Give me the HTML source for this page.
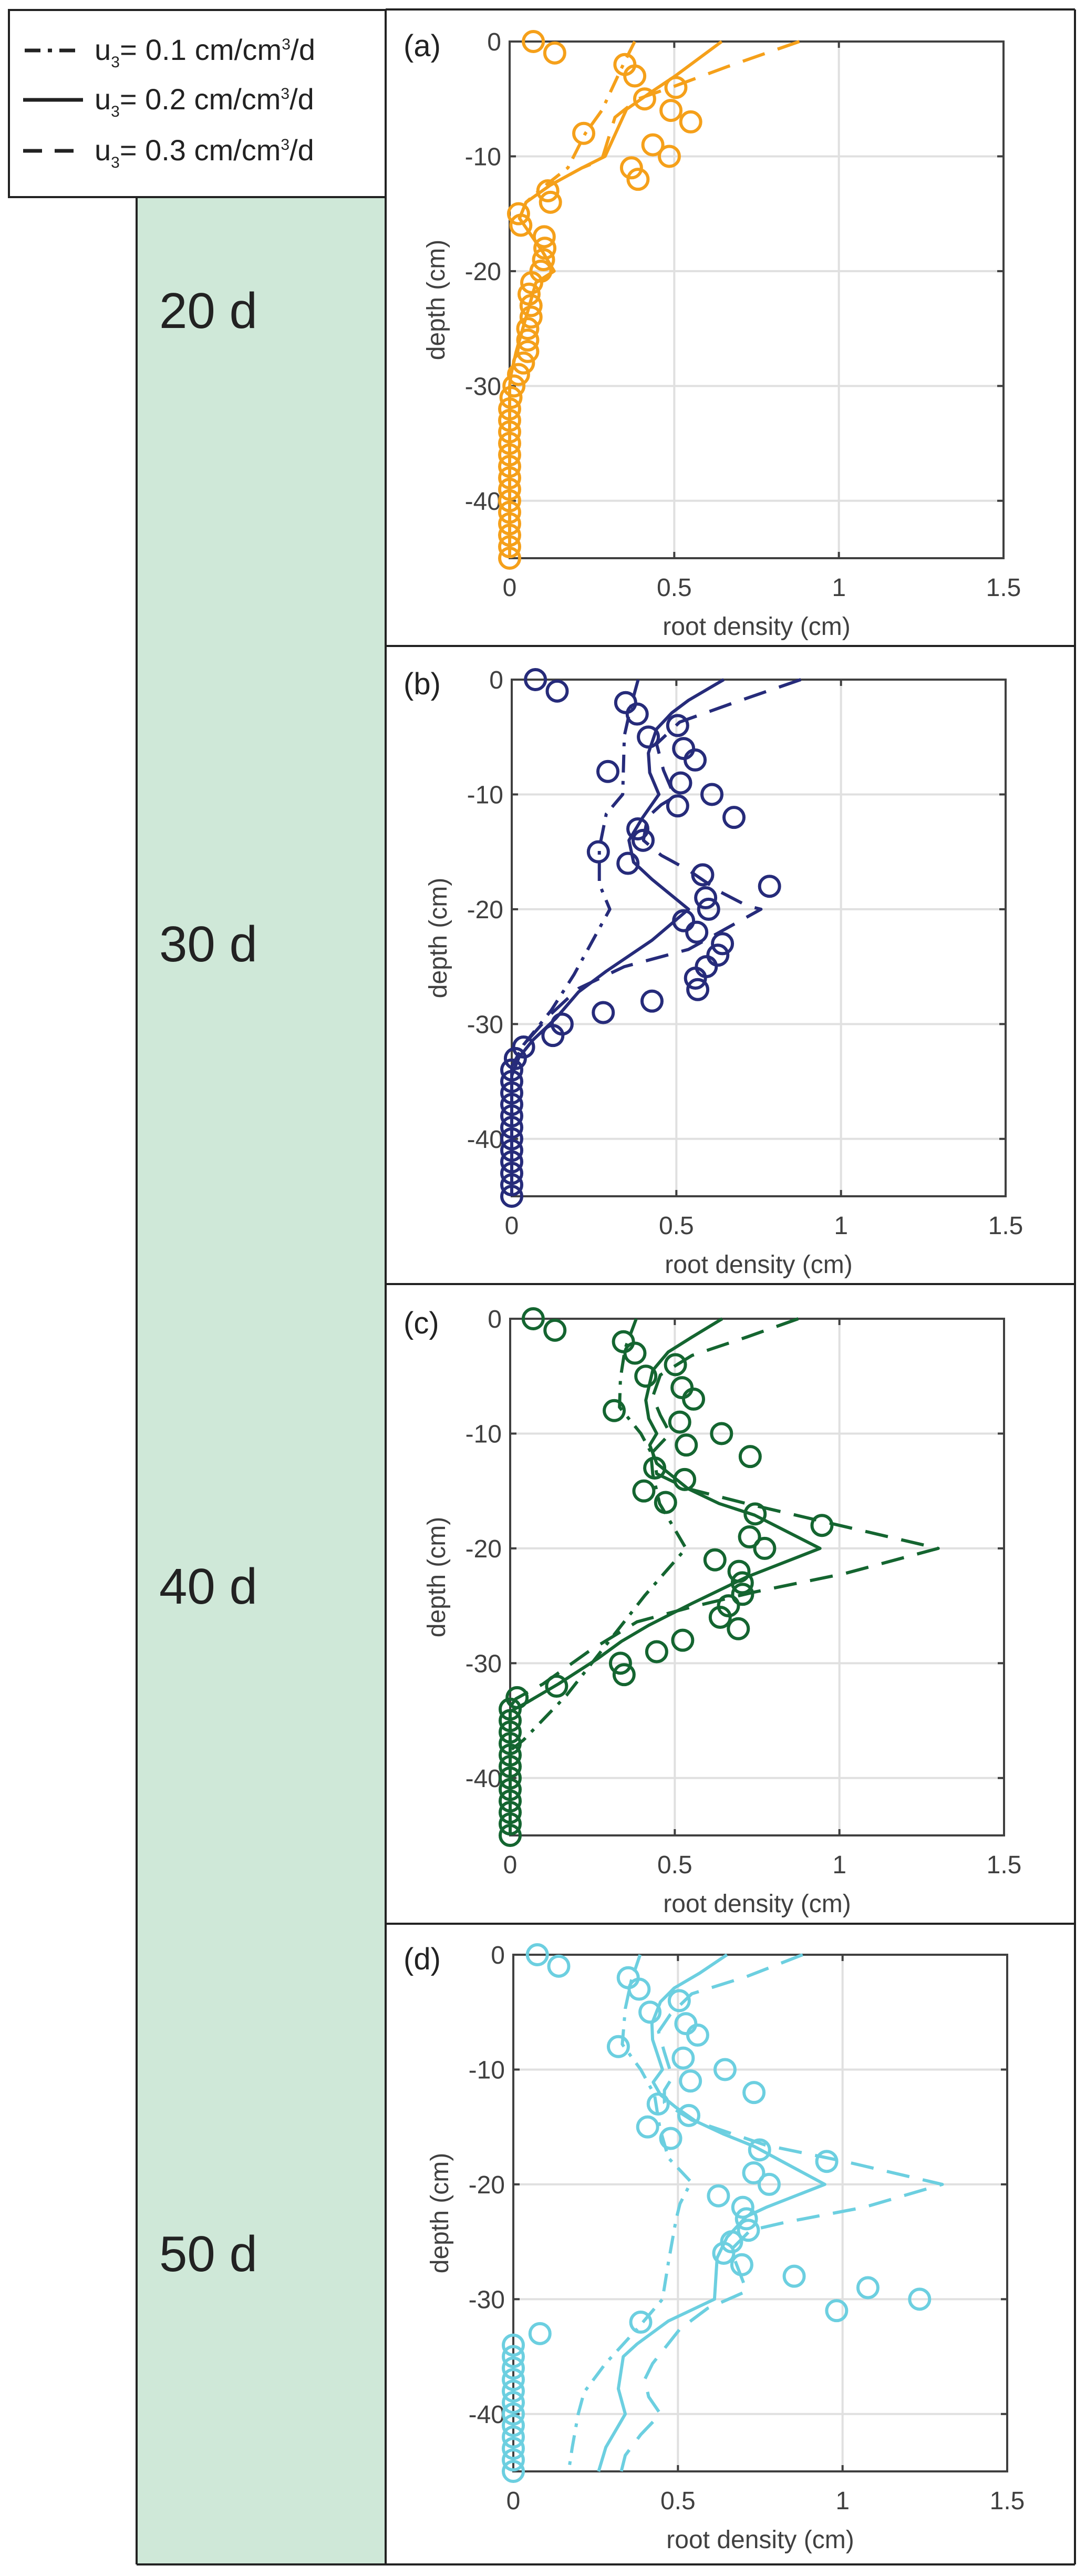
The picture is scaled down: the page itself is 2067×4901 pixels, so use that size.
<!DOCTYPE html>
<html><head><meta charset="utf-8"><style>
html,body{margin:0;padding:0;background:#fff;}
svg{display:block;font-family:"Liberation Sans",sans-serif;}
</style></head><body>
<svg id="fig" width="2067" height="4901" viewBox="0 0 2067 4901" xmlns="http://www.w3.org/2000/svg">
<rect x="260" y="375" width="474" height="4504" fill="#cfe8d8"/>
<g stroke="#222" stroke-width="4" fill="none">
<line x1="734" y1="18" x2="2046" y2="18"/>
<line x1="2046" y1="18" x2="2046" y2="4879"/>
<line x1="260" y1="4879" x2="2046" y2="4879"/>
<line x1="260" y1="375" x2="260" y2="4879"/>
<line x1="734" y1="18" x2="734" y2="4879"/>
<line x1="734" y1="1229" x2="2046" y2="1229"/>
<line x1="734" y1="2443" x2="2046" y2="2443"/>
<line x1="734" y1="3660" x2="2046" y2="3660"/>
</g>
<g>
<rect x="17" y="19" width="717" height="356" fill="#fff" stroke="#222" stroke-width="4"/>
<g>
<line x1="47" y1="96" x2="156" y2="96" stroke="#222" stroke-width="7" stroke-dasharray="30,14,8,14"/>
<text x="180" y="114" font-size="56" fill="#222" textLength="420">u<tspan font-size="30" dy="14">3</tspan><tspan dy="-14">= 0.1 cm/cm</tspan><tspan font-size="30" dy="-20">3</tspan><tspan dy="20">/d</tspan></text></g>
<g>
<line x1="44" y1="190" x2="158" y2="190" stroke="#222" stroke-width="7"/>
<text x="180" y="208" font-size="56" fill="#222">u<tspan font-size="30" dy="14">3</tspan><tspan dy="-14">= 0.2 cm/cm</tspan><tspan font-size="30" dy="-20">3</tspan><tspan dy="20">/d</tspan></text></g>
<g>
<line x1="44" y1="287" x2="158" y2="287" stroke="#222" stroke-width="7" stroke-dasharray="36,24"/>
<text x="180" y="305" font-size="56" fill="#222">u<tspan font-size="30" dy="14">3</tspan><tspan dy="-14">= 0.3 cm/cm</tspan><tspan font-size="30" dy="-20">3</tspan><tspan dy="20">/d</tspan></text></g>
</g>
<g font-size="96" fill="#222">
<text x="303" y="624">20 d</text>
<text x="303" y="1829">30 d</text>
<text x="303" y="3051">40 d</text>
<text x="303" y="4321">50 d</text>
</g>
<g id="panels"></g>
</svg>
<script>
var NS="http://www.w3.org/2000/svg";
var xTicks=[0,0.5,1,1.5];
var xTickLabels=["0","0.5","1","1.5"];
var yTicks=[0,-10,-20,-30,-40];
var yTickLabels=["0","-10","-20","-30","-40"];
var obsDepth=[];for(var i=0;i<=45;i++)obsDepth.push(-i);
var z14=[0,0,0,0,0,0,0,0,0,0,0,0,0,0];
var obsA=[.072,.137,.35,.38,.505,.41,.49,.55,.225,.435,.485,.37,.39,.116,.124,.027,.034,.105,.107,.103,.095,.067,.059,.065,.065,.055,.055,.055,.042,.027,.013,.004].concat(z14);
var obsB=[.072,.138,.346,.381,.504,.415,.522,.557,.292,.513,.608,.504,.675,.383,.399,.263,.353,.58,.783,.589,.598,.522,.562,.64,.626,.591,.558,.565,.426,.278,.153,.125,.036,.011,0,0,0,0,0,0,0,0,0,0,0,0];
var obsC=[.07,.136,.344,.379,.502,.412,.522,.557,.316,.515,.642,.535,.729,.439,.53,.406,.472,.744,.947,.727,.773,.622,.695,.705,.706,.663,.638,.693,.524,.445,.335,.346,.141,.021,0,0,0,0,0,0,0,0,0,0,0,0];
var obsD=[.073,.138,.349,.382,.504,.415,.524,.56,.319,.516,.643,.538,.731,.44,.533,.408,.478,.748,.952,.73,.777,.623,.697,.708,.714,.663,.639,.694,.853,1.077,1.234,.982,.387,.081,0,0,0,0,0,0,0,0,0,0,0,0];
// model lines: depth arrays + value arrays
var aSolidD=[0,-3,-4.4,-5.9,-10,-11,-12.5,-14,-15.4,-18.3,-20,-21,-24,-27,-29,-30,-45];
var aSolidV=[.644,.503,.43,.355,.29,.22,.124,.05,.03,.1,.135,.08,.05,.02,.004,0,0];
var aDotD=[0,-2,-6,-8,-11,-12.5,-14,-15.4,-18.3,-20,-21,-24,-27,-29,-30,-45];
var aDotV=[.38,.345,.28,.23,.177,.11,.05,.03,.1,.135,.08,.05,.02,.004,0,0];
var aDashD=[0,-2.2,-3.9,-5,-6.6,-10.3,-11,-12.5,-14,-15.4,-18.3,-20,-21,-24,-27,-29,-30,-45];
var aDashV=[.88,.66,.5,.39,.32,.28,.22,.124,.05,.03,.1,.135,.08,.05,.02,.004,0,0];
var bSolidD=[0,-1.8,-2.9,-4.3,-6.4,-8.1,-10,-12,-14,-15.9,-17.4,-20,-22.7,-25.4,-27.2,-29.5,-31.4,-32.9,-34.5,-45];
var bSolidV=[.644,.537,.486,.44,.415,.419,.447,.398,.356,.37,.426,.537,.426,.287,.203,.134,.064,.022,0,0];
var bDotD=[0,-2.2,-4.9,-10,-11.7,-14.7,-17.8,-20,-25.7,-28.8,-31.8,-33.7,-45];
var bDotV=[.384,.363,.342,.337,.287,.266,.266,.298,.189,.12,.036,0,0];
var bDashD=[0,-2,-3.7,-5.6,-7.9,-10.2,-10.9,-12,-14,-15.3,-16.6,-18.5,-19.7,-20,-23.5,-25,-26.9,-29.1,-31.8,-33.7,-45];
var bDashV=[.878,.676,.51,.44,.461,.495,.454,.412,.4,.454,.537,.634,.715,.757,.537,.342,.203,.12,.036,0,0];
var cSolidD=[0,-1.6,-2.9,-4.5,-7.1,-8.7,-10,-11,-12.6,-14.8,-16.1,-17.1,-20,-22.5,-24.8,-26.7,-28.1,-29.6,-31.8,-33.4,-34.2,-45];
var cSolidV=[.644,.552,.48,.433,.412,.421,.445,.424,.445,.54,.635,.742,.941,.718,.552,.421,.338,.266,.147,.052,0,0];
var cDotD=[0,-2.6,-5.2,-7.7,-10,-11.6,-13.5,-16.1,-20,-24.1,-28.9,-32.8,-36.7,-37.6,-45];
var cDotV=[.383,.349,.335,.332,.397,.427,.433,.454,.534,.409,.278,.171,.04,0,0];
var cDashD=[0,-1.6,-3.2,-4.9,-6.8,-8.4,-10,-11.6,-13.5,-14.8,-16.1,-17.7,-20,-22.2,-23.8,-25.1,-26.4,-28.9,-31.8,-33.1,-33.8,-45];
var cDashV=[.875,.718,.552,.456,.433,.456,.486,.433,.445,.54,.718,.956,1.3,1.015,.742,.552,.385,.242,.1,.017,0,0];
var dSolidD=[0,-1.6,-2.9,-4.1,-6,-7.4,-10,-11.1,-12.2,-13.3,-14.5,-15.6,-16.7,-20,-22,-22.8,-24.6,-26.4,-30,-31.9,-33.9,-35,-37.8,-40,-42.9,-45];
var dSolidV=[.649,.566,.489,.447,.421,.423,.453,.425,.447,.494,.554,.637,.732,.946,.768,.708,.649,.619,.611,.471,.376,.334,.319,.34,.281,.259];
var dDotD=[0,-2.3,-4.7,-7.8,-10,-12.2,-15.1,-17.7,-19.8,-21.7,-23.1,-26.8,-30,-32.6,-35.6,-38.1,-40,-42.9,-45];
var dDotV=[.385,.358,.34,.331,.387,.429,.445,.471,.54,.506,.494,.471,.453,.376,.28,.215,.197,.179,.168];
var dDashD=[0,-1.9,-3.4,-5.2,-6.7,-8.5,-10.7,-11.8,-12.9,-14.4,-16.6,-18,-20,-22,-23.3,-24,-25.7,-29.3,-30.8,-32.6,-35.6,-37,-38.5,-40,-41.8,-43.6,-45];
var dDashV=[.879,.709,.542,.477,.441,.459,.483,.459,.459,.542,.768,1.006,1.303,1.065,.827,.72,.661,.709,.59,.506,.423,.399,.411,.447,.387,.34,.328];

var panels=[
 {id:"a",top:79,x0:970,color:"#f5a01a",obs:obsA,s:[aSolidD,aSolidV],t:[aDotD,aDotV],u:[aDashD,aDashV]},
 {id:"b",top:1293,x0:974,color:"#262b7a",obs:obsB,s:[bSolidD,bSolidV],t:[bDotD,bDotV],u:[bDashD,bDashV]},
 {id:"c",top:2509,x0:971,color:"#146530",obs:obsC,s:[cSolidD,cSolidV],t:[cDotD,cDotV],u:[cDashD,cDashV]},
 {id:"d",top:3719,x0:977,color:"#6ccfe0",obs:obsD,s:[dSolidD,dSolidV],t:[dDotD,dDotV],u:[dDashD,dDashV]}
];
var W=940,H=983;
function mk(tag,attrs,parent){var e=document.createElementNS(NS,tag);for(var k in attrs)e.setAttribute(k,attrs[k]);parent.appendChild(e);return e;}
var root=document.getElementById("panels");
panels.forEach(function(p){
 var xs=function(v){return p.x0+v/1.5*W;};
 var ys=function(d){return p.top+(-d)/45*H;};
 var g=mk("g",{},root);
 
 
 var x1=p.x0,x2=p.x0+W,y1=p.top,y2=p.top+H;
 mk("rect",{x:x1,y:y1,width:W,height:H,fill:"#fff"},g);
 xTicks.forEach(function(v,i){
  var x=xs(v);
  if(i>0&&i<xTicks.length-1){var gl=mk("line",{x1:x,y1:y1,x2:x,y2:y2,stroke:"#e0e0e0","stroke-width":4},g);
   
   }
  mk("line",{x1:x,y1:y2,x2:x,y2:y2-12,stroke:"#404040","stroke-width":4},g);
  mk("line",{x1:x,y1:y1,x2:x,y2:y1+12,stroke:"#404040","stroke-width":4},g);
  var t=mk("text",{x:x,y:y2+72,"font-size":48,fill:"#404040","text-anchor":"middle"},g);
  t.textContent=xTickLabels[i];
  
  
 });
 yTicks.forEach(function(d,i){
  var y=ys(d);
  if(i>0){var gl=mk("line",{x1:x1,y1:y,x2:x2,y2:y,stroke:"#e0e0e0","stroke-width":4},g);
   
   }
  mk("line",{x1:x1,y1:y,x2:x1+12,y2:y,stroke:"#404040","stroke-width":4},g);
  mk("line",{x1:x2,y1:y,x2:x2-12,y2:y,stroke:"#404040","stroke-width":4},g);
  var t=mk("text",{x:x1-16,y:y+17,"font-size":48,fill:"#404040","text-anchor":"end"},g);
  t.textContent=yTickLabels[i];
  
  
 });
 var box=mk("rect",{x:x1,y:y1,width:W,height:H,fill:"none",stroke:"#404040","stroke-width":4},g);
 
 
 var xl=mk("text",{x:x1+W/2,y:y2+146,"font-size":48,fill:"#404040","text-anchor":"middle"},g);
 xl.textContent="root density (cm)";
 
 
 var yl=mk("text",{x:0,y:0,"font-size":48,fill:"#404040","text-anchor":"middle",transform:"translate("+(x1-124)+","+(y1+H/2)+") rotate(-90)"},g);
 yl.textContent="depth (cm)";
 
 
 var pl=mk("text",{x:768,y:y1+28,"font-size":58,fill:"#222"},g);
 pl.textContent="("+p.id+")";
 
 
 function line(arr,dash,name){
  var pts=arr[0].map(function(d,i){return xs(arr[1][i]).toFixed(1)+","+ys(d).toFixed(1);}).join(" ");
  var a={points:pts,fill:"none",stroke:p.color,"stroke-width":6,"stroke-linejoin":"round"};
  if(dash)a["stroke-dasharray"]=dash;
  var l=mk("polyline",a,g);
  
  
 }
 line(p.t,"34,16,7,16","model-line-u0.1");
 line(p.s,null,"model-line-u0.2");
 line(p.u,"44,26","model-line-u0.3");
 p.obs.forEach(function(v,i){
  var c=mk("circle",{cx:xs(v),cy:ys(obsDepth[i]),r:19,fill:"none",stroke:p.color,"stroke-width":6},g);
  
  
 });
});
</script>
</body></html>
